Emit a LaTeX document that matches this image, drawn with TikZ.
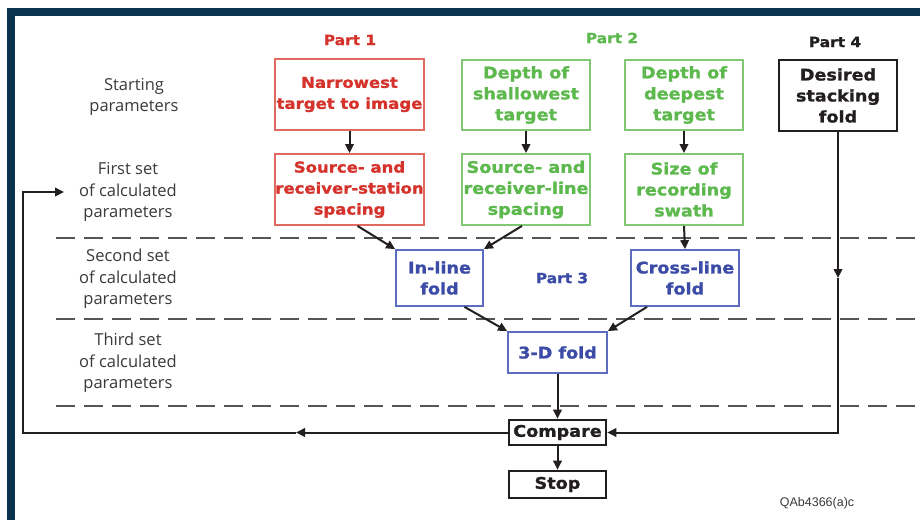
\documentclass[tikz,border=0pt]{standalone}
\usepackage{fontspec}
\usetikzlibrary{arrows.meta}
\newfontfamily\boxfont{DejaVu Sans}[FakeStretch=1.1, FakeBold=1.2]
\newfontfamily\labfont{Open Sans}
\newfontfamily\codefont{Liberation Sans}
\definecolor{navy}{HTML}{0B3350}
\definecolor{pred}{HTML}{D5322C}
\definecolor{predb}{HTML}{E06A60}
\definecolor{pgreen}{HTML}{5DB94E}
\definecolor{pgreenb}{HTML}{80C874}
\definecolor{pblue}{HTML}{3B4BA6}
\definecolor{pblueb}{HTML}{5C6CC0}
\definecolor{pblack}{HTML}{231F20}
\definecolor{dashgray}{HTML}{555555}
\definecolor{labgray}{HTML}{3A3A3A}
\tikzset{
  box/.style={draw, line width=1.8pt, inner sep=0pt, align=center,
    font=\boxfont\bfseries\fontsize{16}{21}\selectfont},
  redbox/.style={box, draw=predb, text=pred,
    font=\boxfont\bfseries\fontsize{15}{21}\selectfont},
  greenbox/.style={box, draw=pgreenb, text=pgreen},
  bluebox/.style={box, draw=pblueb, text=pblue},
  blackbox/.style={box, draw=pblack, text=pblack, line width=2.6pt},
  partlab/.style={inner sep=0pt, font=\boxfont\bfseries\fontsize{14}{17}\selectfont},
  lab/.style={inner sep=0pt, align=center, text=labgray,
    font=\labfont\fontsize{16.5}{21.5}\selectfont},
  arr/.style={-{Triangle[length=9pt,width=8.5pt]}, line width=2pt, draw=pblack},
  sepline/.style={draw=dashgray, line width=2.5pt, dash pattern=on 19pt off 9pt},
}
\begin{document}
\begin{tikzpicture}[x=1pt,y=-1pt]
\useasboundingbox (0,0) rectangle (920,520);
\fill[white] (0,0) rectangle (920,520);
\fill[navy] (7,8) rectangle (920,16);
\fill[navy] (7,8) rectangle (15,520);

% separators
\draw[sepline] (56,238) -- (920,238);
\draw[sepline] (56,319) -- (920,319);
\draw[sepline] (56,406) -- (920,406);

% left labels
\node[lab] (l1) at (134,97) {Starting\\parameters};
\node[lab] (l2) at (128,192) {First set\\of calculated\\parameters};
\node[lab] (l3) at (128,279) {Second set\\of calculated\\parameters};
\node[lab] (l4) at (128,363) {Third set\\of calculated\\parameters};

% part labels
\node[partlab, text=pred] (p1) at (350,40) {Part 1};
\node[partlab, text=pgreen] (p2) at (612,38) {Part 2};
\node[partlab, text=pblue] (p3) at (562,278) {Part 3};
\node[partlab, text=pblack] (p4) at (835,42) {Part 4};

% boxes
\node[redbox, minimum width=149pt, minimum height=71pt] (n1) at (349.5,94.5) {Narrowest\\target to image};
\node[redbox, minimum width=149pt, minimum height=71pt] (n2) at (349.5,189.5) {Source- and\\receiver-station\\spacing};
\node[greenbox, minimum width=128pt, minimum height=70pt] (g1) at (526,95) {Depth of\\shallowest\\target};
\node[greenbox, minimum width=128pt, minimum height=71pt] (g2) at (526,189.5) {Source- and\\receiver-line\\spacing};
\node[greenbox, minimum width=118pt, minimum height=70pt] (g3) at (684,95) {Depth of\\deepest\\target};
\node[greenbox, minimum width=118pt, minimum height=71pt] (g4) at (684,189.5) {Size of\\recording\\swath};
\node[blackbox, minimum width=118pt, minimum height=71pt] (k1) at (838,95.5) {Desired\\stacking\\fold};
\node[bluebox, minimum width=87pt, minimum height=56pt] (b1) at (439.5,278) {In-line\\fold};
\node[bluebox, minimum width=108pt, minimum height=56pt] (b2) at (685,278) {Cross-line\\fold};
\node[bluebox, minimum width=99pt, minimum height=41pt] (b3) at (557.5,352.5) {3-D fold};
\node[blackbox, minimum width=97pt, minimum height=25pt] (c) at (557.5,432.5) {Compare};
\node[blackbox, minimum width=97pt, minimum height=27pt] (s) at (557.5,484.5) {Stop};

\node[inner sep=0pt, text=labgray, font=\codefont\fontsize{12.5}{14}\selectfont] (code) at (817,503) {QAb4366(a)c};

% connectors
\draw[arr] (n1) -- (n2);
\draw[arr] (g1) -- (g2);
\draw[arr] (g3) -- (g4);
\draw[arr] ([xshift=8pt]n2.south) -- (b1.north west);
\draw[arr] ([xshift=-4pt]g2.south) -- (b1.north east);
\draw[arr] (g4.south) -- (b2.north);
\draw[arr] ([xshift=25pt]b1.south) -- (b3.north west);
\draw[arr] ([xshift=-38pt]b2.south) -- (b3.north east);
\draw[arr] (b3) -- (c);
\draw[arr] (c) -- (s);
\draw[arr] (k1.south) -- (k1.south |- b2.center);
\draw[arr] (k1.south |- b2.center) -- (k1.south |- c.east) -- (c.east);

\coordinate (fbM) at (296,432.5);
\coordinate (fbL) at (23,432.5);
\coordinate (fbT) at (23,192);
\coordinate (fbA) at (64,192);
\draw[arr] (c.west) -- (fbM);
\draw[arr] (fbM) -- (fbL) -- (fbT) -- (fbA);
\end{tikzpicture}
\end{document}
